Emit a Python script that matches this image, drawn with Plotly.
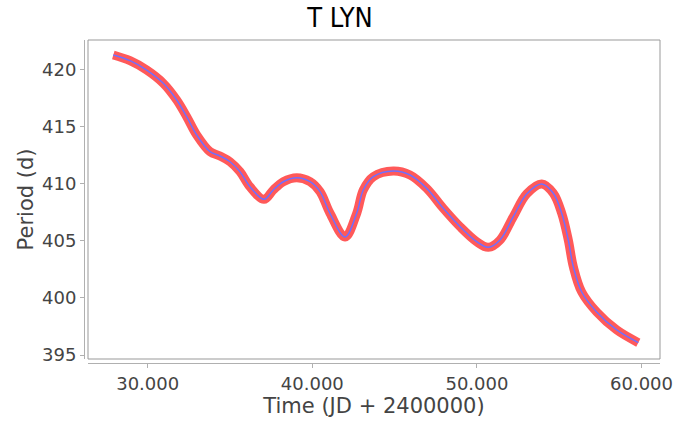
import plotly.graph_objects as go

title_text = "T LYN"
x_label = "Time (JD + 2400000)"
y_label = "Period (d)"

time_jd = [27910, 28925, 29939, 30948, 31762, 32369, 32977, 33785, 34392, 34999,
           35606, 36214, 37065, 37630, 38238, 39052, 39860, 40468, 41075, 41987,
           42697, 43098, 43705, 44920, 45935, 46949, 47958, 48972, 49987, 50691,
           51402, 52210, 53024, 53936, 54640, 55150, 55551, 55855, 56366, 57277,
           58492, 59804]
period_d = [421.25, 420.75, 419.93, 418.77, 417.31, 415.85, 414.25, 412.79, 412.41, 411.91,
            411.04, 409.72, 408.62, 409.44, 410.16, 410.51, 410.16, 409.29, 407.40, 405.32,
            407.40, 409.44, 410.60, 411.10, 410.75, 409.58, 407.83, 406.23, 404.91, 404.42,
            405.06, 407.10, 409.09, 409.96, 409.15, 407.40, 405.06, 402.73, 400.51, 398.76,
            397.19, 396.08]

x_tickvals = [30000, 40000, 50000, 60000]
x_ticktext = ["30.000", "40.000", "50.000", "60.000"]
y_tickvals = [395, 400, 405, 410, 415, 420]
y_ticktext = ["395", "400", "405", "410", "415", "420"]

fig = go.Figure()
fig.add_trace(go.Scatter(x=time_jd, y=period_d, mode="lines",
                         line=dict(color="rgba(255,80,80,0.95)", width=9, shape="spline",
                                   smoothing=1.0),
                         showlegend=False, hoverinfo="skip"))
fig.add_trace(go.Scatter(x=time_jd, y=period_d, mode="lines",
                         line=dict(color="#6f6fff", width=1.5, shape="spline",
                                   smoothing=1.0),
                         showlegend=False))

W, H = 700, 428
ml, mr, mt, mb = 84, 40, 40, 65
pw = W - ml - mr
ph = H - mt - mb
dx = 4 / pw
dy = 4 / ph

font_fam = "DejaVu Sans, Verdana, sans-serif"
fig.update_layout(
    width=W, height=H,
    margin=dict(l=ml, r=mr, t=mt, b=mb),
    paper_bgcolor="white", plot_bgcolor="white",
    title=dict(text=title_text, x=340 / W, xref="container", xanchor="center",
               y=1 - 18 / H, yref="container", yanchor="middle",
               font=dict(family="DejaVu Sans Condensed, Liberation Sans Narrow, sans-serif",
                         size=27, color="black")),
    xaxis=dict(domain=[dx, 1], range=[26373, 61122], anchor="free", position=0,
               showgrid=False, zeroline=False, showline=True, linecolor="#b0b0b0",
               ticks="outside", ticklen=4, tickcolor="#b0b0b0",
               tickvals=x_tickvals, ticktext=x_ticktext,
               tickfont=dict(family=font_fam, size=18, color="#444444"),
               title=dict(text=x_label, standoff=5,
                          font=dict(family=font_fam, size=21, color="#444444"))),
    yaxis=dict(domain=[dy, 1], range=[394.65, 422.56], anchor="free", position=0,
               showgrid=False, zeroline=False, showline=True, linecolor="#b0b0b0",
               ticks="outside", ticklen=4, tickcolor="#b0b0b0",
               tickvals=y_tickvals, ticktext=y_ticktext,
               tickfont=dict(family=font_fam, size=18, color="#444444"),
               title=dict(text=y_label, standoff=1,
                          font=dict(family=font_fam, size=21, color="#444444"))),
    shapes=[dict(type="rect", xref="paper", yref="paper", x0=dx, x1=1, y0=dy, y1=1,
                 line=dict(color="#999999", width=1), layer="above")],
)

fig.write_html("out.html")
